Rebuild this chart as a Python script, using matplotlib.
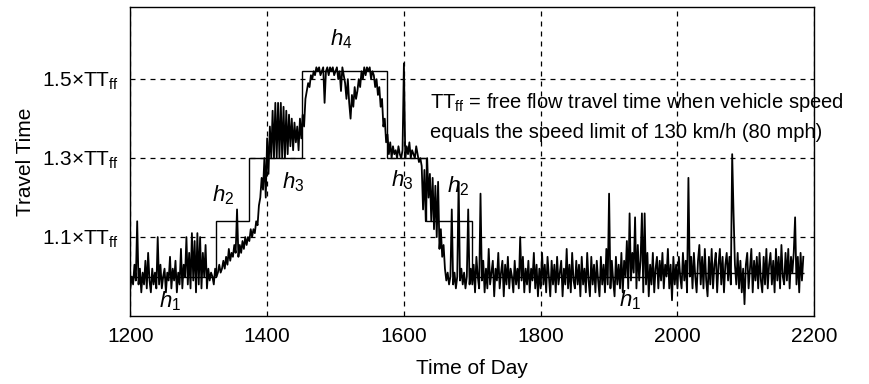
import matplotlib
matplotlib.use('Agg')
import matplotlib.pyplot as plt
import numpy as np

# time of day, one reading every 2 units
start_time = 1200
step_time = 2

travel_time = [
    0.97, 1.00, 0.98, 1.03, 0.99, 1.14, 0.98, 1.02, 0.96, 1.01,
    0.98, 1.04, 0.97, 1.06, 0.99, 0.96, 1.02, 0.98, 1.01, 0.97,
    1.10, 0.98, 1.03, 0.97, 1.00, 1.02, 0.96, 1.01, 0.99, 1.05,
    0.97, 1.02, 0.99, 1.04, 0.96, 1.01, 0.98, 1.07, 0.97, 1.03,
    1.00, 1.10, 0.98, 1.06, 0.97, 1.11, 0.99, 1.09, 0.96, 1.11,
    0.98, 1.10, 0.97, 1.06, 1.00, 1.08, 0.97, 1.02, 0.99, 1.01,
    1.00, 0.98, 1.02, 1.00, 1.01, 1.03, 1.01, 1.02, 1.04, 1.02,
    1.05, 1.03, 1.07, 1.04, 1.06, 1.05, 1.08, 1.06, 1.17, 1.05,
    1.08, 1.06, 1.09, 1.07, 1.10, 1.08, 1.10, 1.09, 1.12, 1.10,
    1.12, 1.11, 1.14, 1.13, 1.18, 1.20, 1.25, 1.22, 1.30, 1.20,
    1.35, 1.26, 1.38, 1.30, 1.42, 1.30, 1.44, 1.30, 1.44, 1.30,
    1.44, 1.30, 1.43, 1.30, 1.42, 1.31, 1.41, 1.33, 1.40, 1.32,
    1.39, 1.34, 1.38, 1.32, 1.40, 1.35, 1.41, 1.38, 1.45, 1.47,
    1.49, 1.48, 1.51, 1.50, 1.52, 1.51, 1.53, 1.52, 1.53, 1.51,
    1.52, 1.53, 1.44, 1.52, 1.53, 1.51, 1.53, 1.52, 1.53, 1.51,
    1.52, 1.53, 1.50, 1.52, 1.47, 1.53, 1.51, 1.49, 1.45, 1.50,
    1.44, 1.40, 1.46, 1.43, 1.48, 1.45, 1.47, 1.50, 1.48, 1.52,
    1.50, 1.53, 1.51, 1.53, 1.52, 1.53, 1.50, 1.52, 1.51, 1.48,
    1.50, 1.46, 1.48, 1.43, 1.45, 1.38, 1.40, 1.34, 1.36, 1.31,
    1.34, 1.30, 1.33, 1.31, 1.32, 1.30, 1.33, 1.31, 1.30, 1.32,
    1.54, 1.30, 1.33, 1.31, 1.34, 1.30, 1.32, 1.31, 1.30, 1.33,
    1.31, 1.29, 1.30, 1.28, 1.17, 1.27, 1.14, 1.30, 1.20, 1.26,
    1.14, 1.25, 1.12, 1.23, 1.10, 1.24, 1.07, 1.12, 1.05, 1.08,
    1.02, 0.99, 1.01, 0.98, 1.00, 1.17, 0.98, 1.01, 0.97, 1.00,
    1.24, 0.99, 1.02, 0.98, 1.01, 0.97, 1.00, 1.17, 0.98, 1.02,
    0.98, 1.03, 0.96, 1.05, 1.00, 0.97, 1.21, 0.99, 1.04, 0.96,
    1.02, 0.97, 1.07, 0.98, 1.01, 1.04, 0.95, 1.02, 0.99, 1.06,
    0.97, 1.01, 1.04, 0.95, 1.03, 0.98, 1.05, 0.97, 1.02, 1.00,
    0.96, 1.04, 0.98, 1.02, 0.97, 1.10, 0.99, 1.05, 0.96, 1.02,
    0.98, 1.04, 0.96, 1.02, 0.99, 1.06, 0.97, 1.03, 0.95, 1.02,
    0.97, 1.06, 0.98, 1.03, 0.96, 1.05, 1.00, 0.95, 1.04, 0.98,
    1.03, 0.96, 1.05, 0.98, 1.01, 1.04, 0.95, 1.02, 0.98, 1.07,
    0.97, 1.03, 0.96, 1.06, 0.99, 0.97, 1.04, 0.98, 1.03, 0.95,
    1.05, 0.98, 1.02, 0.96, 1.06, 0.99, 0.95, 1.05, 0.98, 1.03,
    0.96, 1.04, 0.99, 0.95, 1.05, 0.98, 1.03, 0.96, 1.07, 0.98,
    1.21, 0.97, 1.04, 0.99, 0.95, 1.05, 0.98, 1.03, 0.97, 1.06,
    0.96, 1.04, 1.00, 1.09, 0.97, 1.16, 0.99, 1.06, 1.01, 1.15,
    0.97, 1.08, 0.99, 1.04, 1.16, 0.96, 1.16, 0.98, 1.06, 0.95,
    1.03, 0.98, 1.06, 0.96, 1.02, 1.05, 0.97, 1.04, 0.99, 1.06,
    0.97, 1.03, 1.00, 1.07, 0.97, 1.03, 0.94, 1.05, 0.98, 1.03,
    0.97, 1.05, 1.00, 0.97, 1.06, 0.99, 1.04, 0.96, 1.25, 1.00,
    1.05, 0.97, 1.06, 1.00, 0.96, 1.04, 1.08, 0.98, 1.05, 0.97,
    1.07, 0.99, 0.95, 1.05, 0.98, 1.07, 0.97, 1.03, 1.06, 0.96,
    1.03, 1.07, 0.98, 1.05, 0.96, 1.03, 1.06, 0.99, 1.05, 0.98,
    1.31, 1.16, 1.03, 0.98, 1.06, 0.97, 1.04, 0.96, 1.02, 0.93,
    1.03, 1.06, 0.97, 1.02, 1.07, 0.96, 1.04, 0.99, 1.05, 0.97,
    1.06, 0.99, 0.96, 1.05, 0.98, 1.07, 0.97, 1.03, 1.06, 0.98,
    1.04, 0.96, 1.07, 0.99, 1.05, 0.97, 1.08, 1.00, 0.98, 1.06,
    0.99, 1.07, 0.97, 1.05, 1.01, 1.06, 1.15, 0.98, 1.05, 0.96,
    1.06, 0.99, 1.05,
]

# congestion level steps h1..h4
step_edges = [1200, 1325, 1373, 1451, 1575, 1632, 1700, 1957, 2185]
step_levels = [1.00, 1.14, 1.30, 1.52, 1.30, 1.14, 1.00, 1.01]

level_labels = ['1', '2', '3', '4', '3', '2', '1']
label_x = [1258, 1336, 1438, 1509, 1597, 1679, 1930]
label_y = [0.937, 1.207, 1.24, 1.60, 1.245, 1.228, 0.94]

x_ticks = [1200, 1400, 1600, 1800, 2000, 2200]
y_ticks = [1.1, 1.3, 1.5]
y_tick_labels = [r'1.1$\times$TT$_{\rm ff}$', r'1.3$\times$TT$_{\rm ff}$', r'1.5$\times$TT$_{\rm ff}$']

plt.rcParams['font.family'] = ['Liberation Sans', 'DejaVu Sans']
plt.rcParams['mathtext.fontset'] = 'custom'
plt.rcParams['mathtext.rm'] = 'Liberation Sans'
plt.rcParams['mathtext.it'] = 'Liberation Sans:italic'

fig = plt.figure(figsize=(8.69, 3.84), dpi=100)
ax = fig.add_axes([0.150, 0.177, 0.787, 0.805])

times = start_time + step_time * np.arange(len(travel_time))
ax.plot(times, travel_time, color='black', linewidth=1.3, zorder=3)
ax.stairs(step_levels, step_edges, color='black', linewidth=1.0, baseline=None, zorder=4)

for lab, lx, ly in zip(level_labels, label_x, label_y):
    ax.text(lx, ly, r'$h_{%s}$' % lab, fontsize=16, ha='center', va='center', zorder=5)

ax.text(1638, 1.44, r'TT$_{\rm ff}$ = free flow travel time when vehicle speed',
        fontsize=14.5, ha='left', va='center')
ax.text(1638, 1.365, 'equals the speed limit of 130 km/h (80 mph)',
        fontsize=14.5, ha='left', va='center')

ax.set_xlim(1200, 2200)
ax.set_ylim(0.9, 1.683)
ax.set_xticks(x_ticks)
ax.set_yticks(y_ticks)
ax.set_yticklabels(y_tick_labels)
ax.tick_params(length=0, labelsize=15, pad=8)
ax.grid(True, color='black', linestyle=(0, (4, 4)), linewidth=0.9)
ax.set_xlabel('Time of Day', fontsize=15, labelpad=9)
ax.set_ylabel('Travel Time', fontsize=15, labelpad=5)
for sp in ax.spines.values():
    sp.set_linewidth(1.0)

fig.savefig('out.png', dpi=100)
